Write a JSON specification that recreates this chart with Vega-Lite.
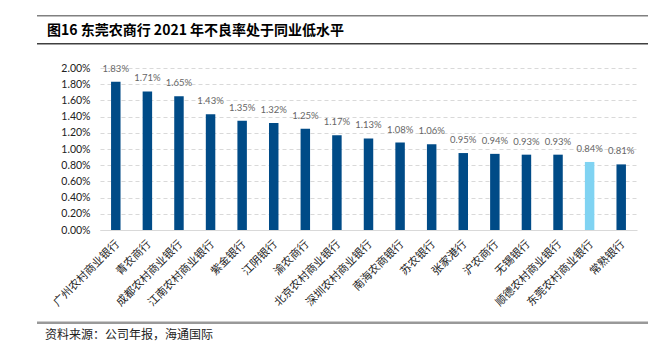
{
  "$schema": "https://vega.github.io/schema/vega-lite/v6.json",
  "width": 537,
  "height": 162,
  "autosize": {"type": "none"},
  "padding": {"left": 100, "top": 68, "right": 33, "bottom": 123},
  "background": "white",
  "config": {"view": {"stroke": null}},
  "data": {
    "values": [
      {"bank": "广州农村商业银行", "npl": 0.0183, "group": "同业"},
      {"bank": "青农商行", "npl": 0.0171, "group": "同业"},
      {"bank": "成都农村商业银行", "npl": 0.0165, "group": "同业"},
      {"bank": "江南农村商业银行", "npl": 0.0143, "group": "同业"},
      {"bank": "紫金银行", "npl": 0.0135, "group": "同业"},
      {"bank": "江阴银行", "npl": 0.0132, "group": "同业"},
      {"bank": "渝农商行", "npl": 0.0125, "group": "同业"},
      {"bank": "北京农村商业银行", "npl": 0.0117, "group": "同业"},
      {"bank": "深圳农村商业银行", "npl": 0.0113, "group": "同业"},
      {"bank": "南海农商银行", "npl": 0.0108, "group": "同业"},
      {"bank": "苏农银行", "npl": 0.0106, "group": "同业"},
      {"bank": "张家港行", "npl": 0.0095, "group": "同业"},
      {"bank": "沪农商行", "npl": 0.0094, "group": "同业"},
      {"bank": "无锡银行", "npl": 0.0093, "group": "同业"},
      {"bank": "顺德农村商业银行", "npl": 0.0093, "group": "同业"},
      {"bank": "东莞农村商业银行", "npl": 0.0084, "group": "东莞"},
      {"bank": "常熟银行", "npl": 0.0081, "group": "同业"}
    ]
  },
  "layer": [
    {
      "encoding": {
        "x": {
          "field": "bank", "type": "nominal", "sort": null, "title": null,
          "scale": {"paddingInner": 0.7, "paddingOuter": 0.35},
          "axis": {
            "labelAngle": -45, "labelAlign": "right", "labelBaseline": "middle",
            "labelPadding": 12, "labelOffset": 2, "labelFont": "Noto Sans CJK SC", "labelFontSize": 11,
            "labelColor": "#222222", "labelOverlap": false, "labelLimit": 0, "ticks": false, "domainColor": "#d9d9d9",
            "domainWidth": 1, "grid": false
          }
        },
        "y": {
          "field": "npl", "type": "quantitative", "title": null,
          "scale": {"domain": [0, 0.02], "nice": false},
          "axis": {
            "values": [0, 0.002, 0.004, 0.006, 0.008, 0.01, 0.012, 0.014, 0.016, 0.018, 0.02],
            "format": ".2%", "domain": false, "ticks": false, "labelPadding": 10,
            "labelOverlap": false, "labelFlush": false,
            "labelFont": "Lato", "labelFontSize": 10.5, "labelColor": "#222222",
            "grid": true, "gridColor": "#d9d9d9", "gridDash": [4, 3], "gridWidth": 1
          }
        }
      },
      "layer": [
        {
          "mark": {"type": "bar"},
          "encoding": {
            "color": {
              "field": "group", "type": "nominal", "legend": null,
              "scale": {"domain": ["同业", "东莞"], "range": ["#004B87", "#80D3F2"]}
            }
          }
        },
        {
          "mark": {"type": "text", "baseline": "alphabetic", "dy": -10, "font": "Lato", "fontSize": 9.5, "color": "#666666"},
          "encoding": {
            "text": {"field": "npl", "type": "quantitative", "format": ".2%"}
          }
        }
      ]
    },
    {
      "data": {"values": [{}]},
      "layer": [
        {
          "mark": {"type": "rule", "clip": false, "color": "#808080", "strokeWidth": 1.5},
          "encoding": {
            "x": {"datum": -0.1173, "type": "quantitative", "scale": {"domain": [0, 1], "nice": false, "zero": false}, "axis": null},
            "x2": {"datum": 1.0205},
            "y": {"datum": 1.3228, "type": "quantitative", "scale": {"domain": [0, 1], "nice": false, "zero": false}, "axis": null}
          }
        },
        {
          "mark": {"type": "rule", "clip": false, "color": "#404040", "strokeWidth": 1.5},
          "encoding": {
            "x": {"datum": -0.1173, "type": "quantitative"},
            "x2": {"datum": 1.0205},
            "y": {"datum": 1.15, "type": "quantitative"}
          }
        },
        {
          "mark": {"type": "rule", "clip": false, "color": "#999999", "strokeWidth": 2.5},
          "encoding": {
            "x": {"datum": -0.1173, "type": "quantitative"},
            "x2": {"datum": 1.0205},
            "y": {"datum": -0.5722, "type": "quantitative"}
          }
        },
        {
          "mark": {"type": "text", "align": "left", "baseline": "middle", "font": "Noto Sans CJK SC", "fontWeight": "bold", "fontSize": 14, "color": "#000000"},
          "encoding": {
            "x": {"datum": -0.0987, "type": "quantitative"},
            "y": {"datum": 1.228, "type": "quantitative"},
            "text": {"value": "图16 东莞农商行 2021 年不良率处于同业低水平"}
          }
        },
        {
          "mark": {"type": "text", "align": "left", "baseline": "middle", "font": "Noto Sans CJK SC", "fontSize": 12, "color": "#222222"},
          "encoding": {
            "x": {"datum": -0.1024, "type": "quantitative"},
            "y": {"datum": -0.648, "type": "quantitative"},
            "text": {"value": "资料来源：公司年报，海通国际"}
          }
        }
      ]
    }
  ],
  "resolve": {"scale": {"x": "independent", "y": "independent", "color": "independent"}}
}
